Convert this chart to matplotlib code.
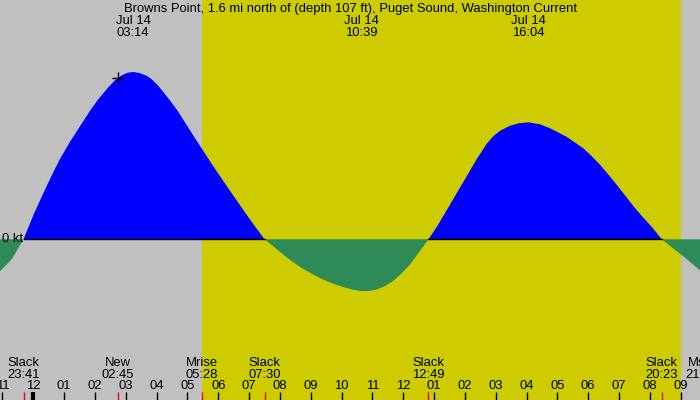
import numpy as np
import matplotlib.pyplot as plt

# current speed (kt) vs hours after midnight, Jul 14
hours = np.array([-1.080, -0.700, -0.317, 0.000, 0.324, 0.600, 0.843, 1.180, 1.515,
                  1.850, 2.108, 2.433, 2.650, 2.867, 3.050, 3.250, 3.450, 3.678,
                  3.840, 4.054, 4.379, 4.671, 5.000, 5.300, 5.838, 6.380, 6.922,
                  7.200, 7.500,
                  7.750, 8.000, 8.200, 8.433, 8.700, 8.975, 9.250, 9.517, 9.800,
                  10.055, 10.350, 10.650, 10.900, 11.139, 11.400, 11.677, 11.950,
                  12.219, 12.500, 12.817,
                  13.100, 13.409, 13.730, 14.058, 14.380, 14.706, 14.920, 15.138,
                  15.460, 15.750, 16.067, 16.436, 16.761, 17.300, 17.840, 18.100,
                  18.382, 18.650, 18.923, 19.190, 19.461, 19.730, 20.003, 20.200,
                  20.383, 20.750, 21.083, 21.350, 21.625])
speed = np.array([-0.32, -0.20, 0.00, 0.24, 0.46, 0.64, 0.79, 0.97, 1.13,
                  1.29, 1.40, 1.52, 1.59, 1.64, 1.665, 1.673, 1.662, 1.635,
                  1.60, 1.535, 1.41, 1.29, 1.13, 0.985, 0.73, 0.485, 0.245,
                  0.125, 0.00,
                  -0.06, -0.125, -0.175, -0.23, -0.285, -0.335, -0.38, -0.418, -0.452,
                  -0.478, -0.503, -0.518, -0.517, -0.502, -0.47, -0.415, -0.34,
                  -0.25, -0.135, 0.00,
                  0.13, 0.29, 0.46, 0.63, 0.80, 0.955, 1.03, 1.085,
                  1.135, 1.16, 1.17, 1.15, 1.11, 1.025, 0.91, 0.835,
                  0.745, 0.648, 0.545, 0.44, 0.333, 0.235, 0.143, 0.072,
                  0.00, -0.09, -0.17, -0.24, -0.31])

# events along the bottom
event_names = ['Slack', 'New', 'Mrise', 'Slack', 'Slack', 'Slack', 'Mset']
event_times = ['23:41', '02:45', '05:28', '07:30', '12:49', '20:23', '21:41']
event_hours = [-0.317, 2.75, 5.467, 7.5, 12.817, 20.383, 21.683]

# max current labels along the top
peak_dates = ['Jul 14', 'Jul 14', 'Jul 14']
peak_times = ['03:14', '10:39', '16:04']
peak_hours = [3.233, 10.65, 16.067]

tick_hours = list(range(-1, 22))
tick_labels = ['11', '12', '01', '02', '03', '04', '05', '06', '07', '08', '09', '10', '11',
               '12', '01', '02', '03', '04', '05', '06', '07', '08', '09']

day_start, day_end = 5.467, 21.0
title = 'Browns Point, 1.6 mi north of (depth 107 ft), Puget Sound, Washington Current'

plt.rcParams['font.family'] = ['Liberation Sans', 'DejaVu Sans']
fs = 9.35

fig = plt.figure(figsize=(7, 4), dpi=100)
fig.patch.set_facecolor('#c0c0c0')
ax = fig.add_axes([0, 0, 1, 1])
ax.set_xlim(-1.08, 21.625)
ax.set_ylim(-1.607, 2.393)
ax.axis('off')
ax.axvspan(day_start, day_end, color='#cccc00', lw=0, zorder=1)

ax.fill_between(hours, speed, 0, where=speed >= 0, interpolate=True, color='#0000ff', lw=0, zorder=2)
ax.fill_between(hours, speed, 0, where=speed <= 0, interpolate=True, color='#2e8b57', lw=0, zorder=2)
base = np.where(speed >= 0, 0.0, np.nan)
ax.plot(hours, base, color='black', lw=1, zorder=3)

# new moon marker on the curve
ax.plot(event_hours[1], np.interp(event_hours[1], hours, speed), marker='+', color='black',
        ms=8, mew=1, zorder=4)

ax.text(-1.08 + 0.07, 0, '0 kt', fontsize=fs, va='center', ha='left', zorder=4)

fig.text(0.5, 1 - 12 / 400, title, fontsize=fs, ha='center', va='baseline')

xt = ax.get_xaxis_transform()
for h, d, t in zip(peak_hours, peak_dates, peak_times):
    ax.text(h, 1 - 24 / 400, d, transform=xt, fontsize=fs, ha='center', va='baseline')
    ax.text(h, 1 - 36 / 400, t, transform=xt, fontsize=fs, ha='center', va='baseline')

for h, n, t in zip(event_hours, event_names, event_times):
    ax.text(h, 1 - 366 / 400, n, transform=xt, fontsize=fs, ha='center', va='baseline')
    ax.text(h, 1 - 377.5 / 400, t, transform=xt, fontsize=fs, ha='center', va='baseline')
    ax.vlines(h, 0, 8 / 400, transform=xt, color='red', lw=1, zorder=4)

for h, lab in zip(tick_hours, tick_labels):
    ax.text(h, 1 - 389 / 400, lab, transform=xt, fontsize=fs, ha='center', va='baseline')
    ax.vlines(h, 0, 8.5 / 400, transform=xt, color='black', lw=3 if h == 0 else 1, zorder=4)

fig.savefig('out.png', dpi=100)
